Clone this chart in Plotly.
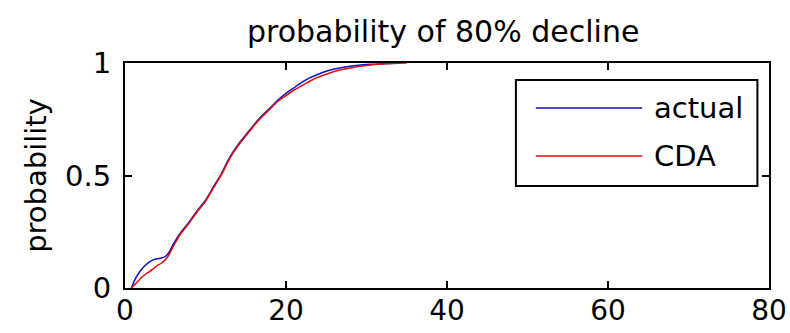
import plotly.graph_objects as go

# Probability that an 80% decline has occurred, by horizon
x_actual = [0.8, 1.2, 1.6, 2, 2.5, 3, 3.5, 4, 4.5, 5, 5.5, 6, 7, 8, 9, 10, 11, 12, 13, 14, 15,
            16, 17, 18, 19, 20, 21, 22, 23, 24, 25, 26, 27, 28, 29, 30, 31, 32, 33, 34]
y_actual = [0, 0.035, 0.06, 0.08, 0.1, 0.115, 0.125, 0.13, 0.133, 0.14, 0.16, 0.195, 0.25,
            0.295, 0.345, 0.39, 0.45, 0.51, 0.58, 0.635, 0.68, 0.725, 0.765, 0.80, 0.835,
            0.865, 0.89, 0.915, 0.935, 0.95, 0.963, 0.973, 0.98, 0.986, 0.99, 0.993, 0.995,
            0.997, 0.998, 0.999]

x_cda = [0.8, 1.2, 1.6, 2, 2.5, 3, 3.5, 4, 4.5, 5, 5.5, 6, 7, 8, 9, 10, 11, 12, 13, 14, 15,
         16, 17, 18, 19, 20, 21, 22, 23, 24, 25, 26, 27, 28, 29, 30, 31, 32, 33, 34, 35]
y_cda = [0, 0.015, 0.03, 0.045, 0.06, 0.072, 0.085, 0.1, 0.11, 0.125, 0.15, 0.185, 0.245,
         0.29, 0.34, 0.385, 0.445, 0.505, 0.575, 0.63, 0.675, 0.72, 0.76, 0.795, 0.83,
         0.855, 0.88, 0.9, 0.92, 0.937, 0.95, 0.962, 0.971, 0.978, 0.984, 0.989, 0.993,
         0.996, 0.998, 0.999, 1.0]

series_names = ["actual", "CDA"]
series_colors = ["#1010c8", "#e01010"]

x_ticks = [0, 20, 40, 60, 80]
y_ticks = [0, 0.5, 1]
y_tick_text = ["0", "0.5", "1"]

FONT = "DejaVu Sans"

fig = go.Figure()
fig.add_trace(go.Scatter(x=x_actual, y=y_actual, mode="lines", name=series_names[0],
                         line=dict(color=series_colors[0], width=1.5, shape="spline",
                                   smoothing=0.6), showlegend=False))
fig.add_trace(go.Scatter(x=x_cda, y=y_cda, mode="lines", name=series_names[1],
                         line=dict(color=series_colors[1], width=1.5, shape="spline",
                                   smoothing=0.6), showlegend=False))

axis_common = dict(showline=True, linecolor="black", linewidth=2, mirror="allticks",
                   ticks="inside", ticklen=7, tickwidth=1.5, tickcolor="black",
                   showgrid=False, zeroline=False, automargin=False)

fig.update_xaxes(range=[0, 80], tickvals=x_ticks, ticktext=[str(v) for v in x_ticks],
                 ticklabelstandoff=-4,
                 tickfont=dict(family=FONT, size=28, color="black"), **axis_common)
fig.update_yaxes(range=[0, 1], tickvals=y_ticks, ticktext=y_tick_text,
                 ticklabelstandoff=6,
                 tickfont=dict(family=FONT, size=29, color="black"),
                 title=dict(text="probability", font=dict(family=FONT, size=29, color="black"),
                            standoff=10),
                 **axis_common)

# Legend box drawn in paper coordinates
lx0, lx1, ly0, ly1 = 0.607, 0.982, 0.453, 0.924
shapes = [dict(type="rect", xref="paper", yref="paper", x0=lx0, x1=lx1, y0=ly0, y1=ly1,
               line=dict(color="black", width=2), fillcolor="white", layer="above")]
annotations = []
row_y = [0.80, 0.587]
for name, color, ry in zip(series_names, series_colors, row_y):
    shapes.append(dict(type="line", xref="paper", yref="paper", x0=0.638, x1=0.803,
                       y0=ry, y1=ry, line=dict(color=color, width=1.5), layer="above"))
    annotations.append(dict(xref="paper", yref="paper", x=0.818, y=ry, xanchor="left",
                            yanchor="middle", text=name, showarrow=False,
                            font=dict(family=FONT, size=29, color="black")))

fig.update_layout(
    width=790, height=333,
    margin=dict(l=125, r=21, t=63, b=45),
    paper_bgcolor="white", plot_bgcolor="white",
    title=dict(text="probability of 80% decline", x=0.561, xanchor="center",
               y=0.905, yanchor="middle",
               font=dict(family=FONT, size=30, color="black")),
    shapes=shapes, annotations=annotations,
)

fig.write_html("out.html")
